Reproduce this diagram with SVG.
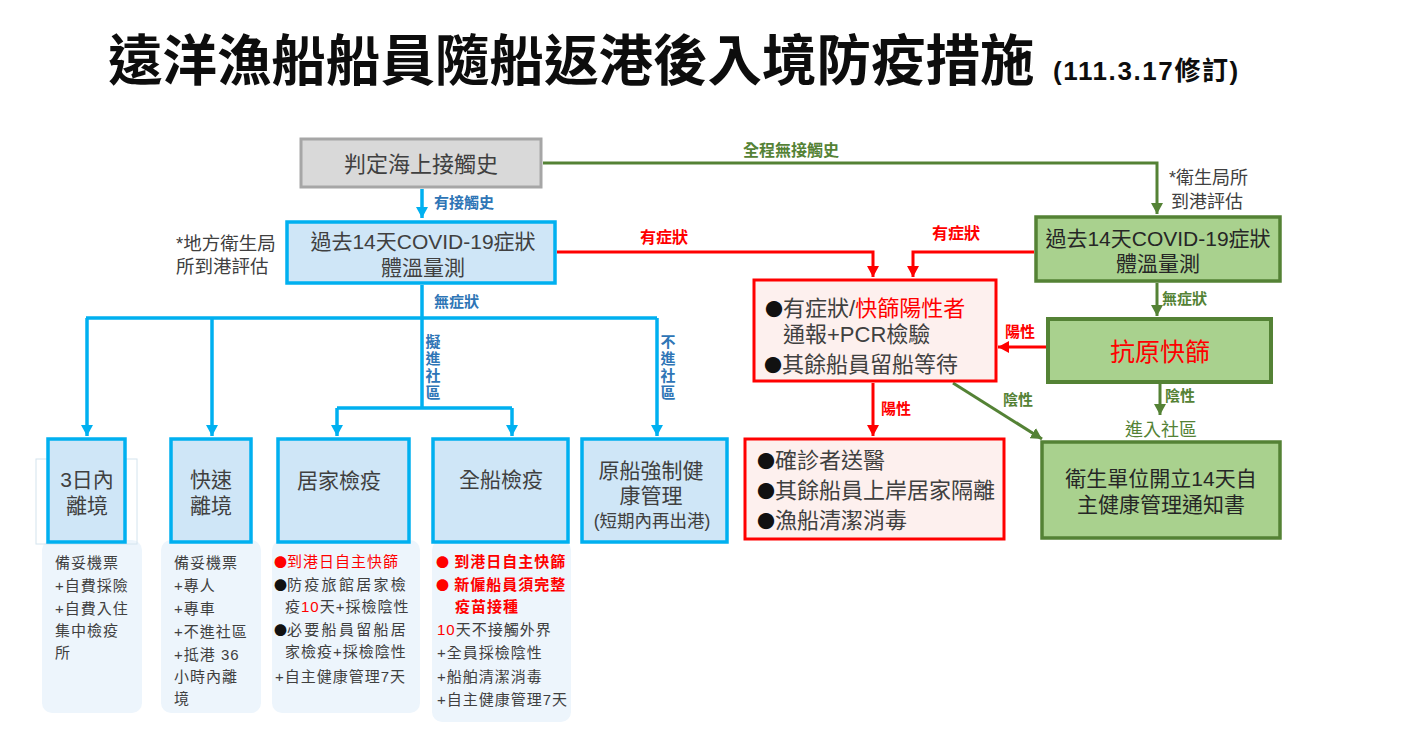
<svg xmlns="http://www.w3.org/2000/svg" width="1417" height="733" viewBox="0 0 1417 733">
<style>
text{font-family:"Liberation Sans","Noto Sans CJK TC","Noto Sans CJK SC",sans-serif;fill:#404040}
.t{font-size:21px;text-anchor:middle}
.lb{font-size:15px;font-weight:bold}
.vt{writing-mode:vertical-rl;letter-spacing:2px}
.blb{fill:#2e75b6}
.rlb{fill:#ff0000}
.glb{fill:#548235}
.pn{font-size:15px;letter-spacing:1px}
.red{fill:#ff0000}
.blk{fill:#111111}
.bul{font-family:"Noto Sans CJK TC","Noto Sans CJK SC",sans-serif;font-size:18px;letter-spacing:0}
.bs{font-family:"Noto Sans CJK TC","Noto Sans CJK SC",sans-serif;font-size:13px;letter-spacing:0}
.bbox{fill:#cfe6f7;stroke:#00b0f0;stroke-width:3.5}
.rbox{fill:#fdf0ee;stroke:#ff0000;stroke-width:3}
.gbox{fill:#a9d18e;stroke:#548235;stroke-width:3.5}
.panel{fill:#edf5fc}
.bl{fill:none;stroke:#00b0f0;stroke-width:3.5}
.rl{fill:none;stroke:#ff0000;stroke-width:3}
.gl{fill:none;stroke:#548235;stroke-width:3}
</style>
<defs>
<marker id="ab" markerUnits="userSpaceOnUse" markerWidth="12" markerHeight="12" refX="11" refY="6" orient="auto"><path d="M0,0 L11,6 L0,12 z" fill="#00b0f0"/></marker>
<marker id="ar" markerUnits="userSpaceOnUse" markerWidth="12" markerHeight="12" refX="11" refY="6" orient="auto"><path d="M0,0 L11,6 L0,12 z" fill="#ff0000"/></marker>
<marker id="ag" markerUnits="userSpaceOnUse" markerWidth="12" markerHeight="12" refX="11" refY="6" orient="auto"><path d="M0,0 L11,6 L0,12 z" fill="#548235"/></marker>
</defs>
<rect width="1417" height="733" fill="#ffffff"/>

<g id="title">
<text x="108" y="80" style="font-size:54.5px;font-weight:bold;fill:#0d0d0d">遠洋漁船船員隨船返港後入境防疫措施</text>
<text x="1053" y="80" style="font-size:26px;font-weight:bold;fill:#0d0d0d;letter-spacing:1.6px">(111.3.17修訂)</text>
</g>

<g id="connectors">
<path class="bl" d="M422,189 L422,218" marker-end="url(#ab)"/>
<path class="bl" d="M422,285 L422,408 M86,318 L657,318 M337,408 L512,408"/>
<path class="bl" d="M87,318 L87,436" marker-end="url(#ab)"/>
<path class="bl" d="M212,318 L212,436" marker-end="url(#ab)"/>
<path class="bl" d="M657,318 L657,436" marker-end="url(#ab)"/>
<path class="bl" d="M337,408 L337,436" marker-end="url(#ab)"/>
<path class="bl" d="M512,408 L512,436" marker-end="url(#ab)"/>
<path class="rl" d="M557,252 L873,252 L873,277" marker-end="url(#ar)"/>
<path class="rl" d="M1034,252 L913,252 L913,277" marker-end="url(#ar)"/>
<path class="rl" d="M1046,347 L998,347" marker-end="url(#ar)"/>
<path class="rl" d="M873,383 L873,436" marker-end="url(#ar)"/>
<path class="gl" d="M543,163 L1157,163 L1157,214" marker-end="url(#ag)"/>
<path class="gl" d="M1157,283 L1157,316" marker-end="url(#ag)"/>
<path class="gl" d="M1160,384 L1160,415" marker-end="url(#ag)"/>
<path class="gl" d="M953,383 L1042,439" marker-end="url(#ag)"/>
<text class="lb blb" x="434" y="208">有接觸史</text>
<text class="lb blb" x="434" y="307">無症狀</text>
<text class="lb blb vt" x="432" y="334">擬進社區</text>
<text class="lb blb vt" x="667" y="334">不進社區</text>
<text class="lb glb" x="743" y="156" style="font-size:16px">全程無接觸史</text>
<text class="lb rlb" x="640" y="243" style="font-size:16px">有症狀</text>
<text class="lb rlb" x="932" y="239" style="font-size:16px">有症狀</text>
<text class="lb rlb" x="1005" y="337">陽性</text>
<text class="lb rlb" x="881" y="414">陽性</text>
<text class="lb glb" x="1162" y="304">無症狀</text>
<text class="lb glb" x="1003" y="405">陰性</text>
<text class="lb glb" x="1165" y="401">陰性</text>
<text x="1161" y="436" style="font-size:18px;fill:#548235;text-anchor:middle">進入社區</text>
</g>

<g id="n-judge">
<rect x="301" y="139" width="240" height="48" fill="#d9d9d9" stroke="#a6a6a6" stroke-width="3"/>
<text class="t" x="421" y="172" style="font-size:22px">判定海上接觸史</text>
</g>

<g id="n-note-left">
<text x="176" y="250" style="font-size:18.5px"><tspan x="176" y="250">*地方衛生局</tspan><tspan x="176" y="273">所到港評估</tspan></text>
</g>

<g id="n-symptom-blue">
<rect class="bbox" x="287" y="222" width="268" height="61"/>
<text class="t" x="423" y="249"><tspan x="423" y="249">過去14天COVID-19症狀</tspan><tspan x="423" y="275">體溫量測</tspan></text>
</g>

<g id="n-note-right">
<text x="1169" y="184" style="font-size:18px"><tspan x="1169" y="184">*衛生局所</tspan><tspan x="1171" y="208">到港評估</tspan></text>
</g>

<g id="n-symptom-green">
<rect class="gbox" x="1036" y="217" width="244" height="64"/>
<text class="t" x="1158" y="246" style="fill:#262626"><tspan x="1158" y="246">過去14天COVID-19症狀</tspan><tspan x="1158" y="271">體溫量測</tspan></text>
</g>

<g id="n-rapid">
<rect class="gbox" x="1048" y="319" width="223" height="63" style="stroke-width:4"/>
<text class="t" x="1160" y="361" style="font-size:25px;fill:#ff0000">抗原快篩</text>
</g>

<g id="n-report">
<rect class="rbox" x="754" y="280" width="242" height="101"/>
<text x="765" y="316" style="font-size:22px"><tspan x="765" y="316" class="blk bul">●</tspan><tspan>有症狀/</tspan><tspan class="red">快篩陽性者</tspan><tspan x="783" y="342">通報+PCR檢驗</tspan><tspan x="764" y="372" class="blk bul">●</tspan><tspan>其餘船員留船等待</tspan></text>
</g>

<g id="n-positive">
<rect class="rbox" x="745" y="439" width="259" height="100"/>
<text x="758" y="468" style="font-size:22px"><tspan x="757" y="468" class="blk bul">●</tspan><tspan>確診者送醫</tspan><tspan x="757" y="498" class="blk bul">●</tspan><tspan>其餘船員上岸居家隔離</tspan><tspan x="757" y="528" class="blk bul">●</tspan><tspan>漁船清潔消毒</tspan></text>
</g>

<g id="n-selfhealth">
<rect class="gbox" x="1042" y="442" width="238" height="96"/>
<text class="t" x="1161" y="486" style="fill:#262626"><tspan x="1161" y="486">衛生單位開立14天自</tspan><tspan x="1161" y="512">主健康管理通知書</tspan></text>
</g>

<g id="n-leave3">
<rect class="panel" x="42" y="540" width="100" height="173" rx="10"/>
<rect x="36" y="459" width="101" height="85" fill="none" stroke="#d4e4ee" stroke-width="1"/>
<rect class="bbox" x="48" y="439" width="77" height="103"/>
<text class="t" x="87" y="487"><tspan x="87" y="487">3日內</tspan><tspan x="87" y="513">離境</tspan></text>
<text class="pn" x="55" y="568"><tspan x="55" y="568">備妥機票</tspan><tspan x="55" y="591">+自費採險</tspan><tspan x="55" y="614">+自費入住</tspan><tspan x="55" y="636">集中檢疫</tspan><tspan x="55" y="658">所</tspan></text>
</g>

<g id="n-fastleave">
<rect class="panel" x="161" y="540" width="100" height="173" rx="10"/>
<rect class="bbox" x="171" y="439" width="80" height="103"/>
<text class="t" x="211" y="487"><tspan x="211" y="487">快速</tspan><tspan x="211" y="513">離境</tspan></text>
<text class="pn" x="174" y="568"><tspan x="174" y="568">備妥機票</tspan><tspan x="174" y="591">+專人</tspan><tspan x="174" y="614">+專車</tspan><tspan x="174" y="637">+不進社區</tspan><tspan x="174" y="660">+抵港 36</tspan><tspan x="174" y="682">小時內離</tspan><tspan x="174" y="704">境</tspan></text>
</g>

<g id="n-home">
<rect class="panel" x="272" y="540" width="148" height="173" rx="10"/>
<rect class="bbox" x="278" y="439" width="131" height="103"/>
<text class="t" x="339" y="488">居家檢疫</text>
<text class="pn" x="275" y="567"><tspan x="274" y="567" class="red bs">●</tspan><tspan class="red">到港日自主快篩</tspan><tspan x="274" y="590" class="blk bs">●</tspan><tspan style="letter-spacing:2.3px">防疫旅館居家檢</tspan><tspan x="285" y="612">疫</tspan><tspan class="red">10</tspan><tspan>天+採檢陰性</tspan><tspan x="274" y="635" class="blk bs">●</tspan><tspan style="letter-spacing:2.3px">必要船員留船居</tspan><tspan x="285" y="657">家檢疫+採檢陰性</tspan><tspan x="275" y="682">+自主健康管理7天</tspan></text>
</g>

<g id="n-ship">
<rect class="panel" x="432" y="540" width="139" height="182" rx="10"/>
<rect class="bbox" x="433" y="439" width="135" height="103"/>
<text class="t" x="501" y="487">全船檢疫</text>
<text class="pn" x="437" y="567"><tspan x="436" y="567" class="red bs">●</tspan><tspan class="red" style="font-weight:bold"> 到港日自主快篩</tspan><tspan x="436" y="590" class="red bs">●</tspan><tspan class="red" style="font-weight:bold"> 新僱船員須完整</tspan><tspan x="455" y="612" class="red" style="font-weight:bold">疫苗接種</tspan><tspan x="437" y="635" class="red">10</tspan><tspan>天不接觸外界</tspan><tspan x="437" y="658">+全員採檢陰性</tspan><tspan x="437" y="682">+船舶清潔消毒</tspan><tspan x="437" y="705">+自主健康管理7天</tspan></text>
</g>

<g id="n-onboard">
<rect class="bbox" x="582" y="439" width="145" height="103"/>
<text class="t" x="651" y="478"><tspan x="651" y="478">原船強制健</tspan><tspan x="651" y="503">康管理</tspan><tspan x="652" y="527" style="font-size:17.5px">(短期內再出港)</tspan></text>
</g>
</svg>
